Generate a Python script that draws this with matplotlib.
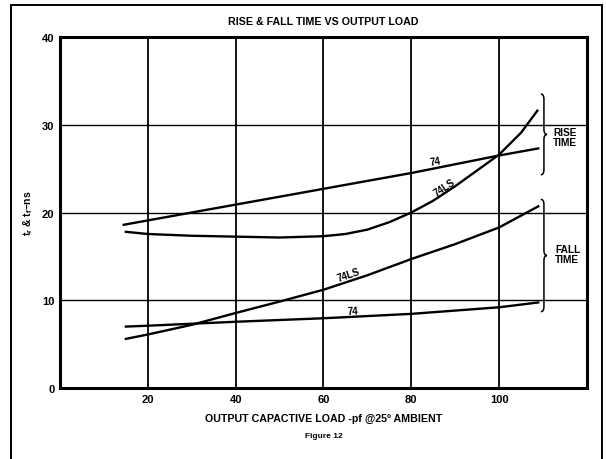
import matplotlib
matplotlib.use('Agg')
import matplotlib.pyplot as plt
from matplotlib.path import Path
from matplotlib.patches import PathPatch, Rectangle

plt.rcParams['font.family'] = ['Liberation Sans', 'DejaVu Sans']
plt.rcParams['font.weight'] = 'bold'
plt.rcParams['mathtext.fontset'] = 'custom'
plt.rcParams['mathtext.rm'] = 'Liberation Sans:bold'
plt.rcParams['mathtext.it'] = 'Liberation Sans:bold'

# rise time curves
rise74_x = [14.5, 20, 40, 60, 80, 100, 108.9]
rise74_y = [18.6, 19.1, 20.9, 22.7, 24.5, 26.5, 27.3]
rise74ls_x = [15, 20, 30, 40, 50, 60, 65, 70, 75, 80, 85, 90, 95, 100, 105, 108.7]
rise74ls_y = [17.8, 17.55, 17.35, 17.25, 17.15, 17.3, 17.55, 18.05, 18.9, 20.0, 21.35, 23.0, 24.8, 26.6, 29.1, 31.6]

# fall time curves
fall74_x = [15, 20, 40, 60, 80, 100, 108.9]
fall74_y = [7.0, 7.1, 7.55, 7.95, 8.45, 9.2, 9.75]
fall74ls_x = [15, 20, 30, 40, 50, 60, 70, 80, 90, 100, 108.9]
fall74ls_y = [5.6, 6.1, 7.2, 8.55, 9.85, 11.2, 12.85, 14.7, 16.4, 18.3, 20.7]

xticks = [20, 40, 60, 80, 100]
yticks = [0, 10, 20, 30, 40]


def brace(ax, x, y0, y1, w, d):
    ym = (y0 + y1) / 2.0
    xm = x + w / 2.0
    verts = [(x, y1), (xm, y1), (xm, y1 - d),
             (xm, ym + d),
             (xm, ym), (x + w, ym),
             (xm, ym), (xm, ym - d),
             (xm, y0 + d),
             (xm, y0), (x, y0)]
    codes = [Path.MOVETO, Path.CURVE3, Path.CURVE3,
             Path.LINETO,
             Path.CURVE3, Path.CURVE3,
             Path.CURVE3, Path.CURVE3,
             Path.LINETO,
             Path.CURVE3, Path.CURVE3]
    ax.add_patch(PathPatch(Path(verts, codes), fc='none', ec='black', lw=1.1, clip_on=False))


fig = plt.figure(figsize=(6.06, 4.60), dpi=100)
ax = fig.add_axes([0.099, 0.1543, 0.8696, 0.7631])

ax.plot(rise74_x, rise74_y, color='black', lw=1.7, clip_on=False)
ax.plot(rise74ls_x, rise74ls_y, color='black', lw=1.7, clip_on=False)
ax.plot(fall74_x, fall74_y, color='black', lw=1.7, clip_on=False)
ax.plot(fall74ls_x, fall74ls_y, color='black', lw=1.7, clip_on=False)

ax.set_xlim(0, 120)
ax.set_ylim(0, 40)
ax.set_xticks(xticks)
ax.set_yticks(yticks)
ax.tick_params(length=0, labelsize=8, pad=4)
for lab in ax.get_xticklabels() + ax.get_yticklabels():
    lab.set_fontweight('bold')
for x in xticks:
    ax.axvline(x, color='black', lw=1.3, zorder=1)
for y in [10, 20, 30]:
    ax.axhline(y, color='black', lw=1.0, zorder=1)
for s in ax.spines.values():
    s.set_linewidth(2.2)

ax.set_title('RISE & FALL TIME VS OUTPUT LOAD', fontsize=7.7, fontweight='bold', pad=9)
ax.set_xlabel('OUTPUT CAPACTIVE LOAD -pf @25º AMBIENT', fontsize=7.7, fontweight='bold', labelpad=7)
ax.set_ylabel(r'$\mathrm{t_r}$ & $\mathrm{t_f}$–ns', fontsize=7.5, fontweight='bold', labelpad=5)

# curve labels
ax.text(85.5, 25.9, '74', fontsize=7, fontweight='bold', rotation=10, ha='center', va='center')
ax.text(87.5, 22.9, '74LS', fontsize=7, fontweight='bold', rotation=34, ha='center', va='center')
ax.text(65.7, 13.0, '74LS', fontsize=7, fontweight='bold', rotation=19, ha='center', va='center')
ax.text(66.6, 8.85, '74', fontsize=7, fontweight='bold', rotation=3, ha='center', va='center')

# braces and group labels
brace(ax, 109.5, 24.3, 33.5, 1.4, 0.6)
brace(ax, 109.5, 8.7, 21.5, 1.4, 0.6)
ax.text(112.3, 28.6, 'RISE\nTIME', fontsize=7.3, fontweight='bold', ha='left', va='center', linespacing=1.0)
ax.text(112.7, 15.3, 'FALL\nTIME', fontsize=7.3, fontweight='bold', ha='left', va='center', linespacing=1.0)

fig.text(0.5347, 1 - 437 / 460.0, 'Figure 12', fontsize=6, fontweight='bold', ha='center', va='center')

# outer frame
fig.patches.append(Rectangle((11 / 606.0, -0.05), 591 / 606.0, 1.05 - 6 / 460.0,
                             transform=fig.transFigure, fill=False, ec='black', lw=1.4))

fig.savefig('out.png', dpi=100)
